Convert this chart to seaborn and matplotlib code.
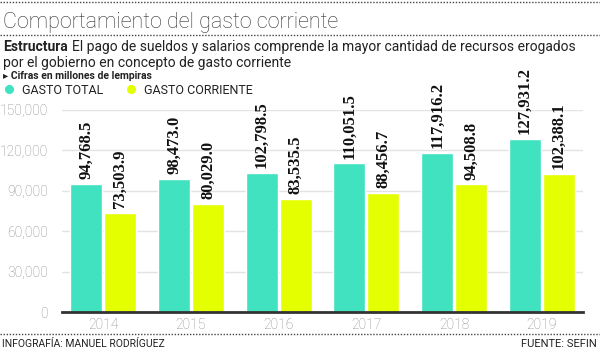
import numpy as np
import pandas as pd
import seaborn as sns
import matplotlib.pyplot as plt
from matplotlib.lines import Line2D

years = ['2014', '2015', '2016', '2017', '2018', '2019']
gasto_total = [94768.5, 98473.0, 102798.5, 110051.5, 117916.2, 127931.2]
gasto_corriente = [73503.9, 80029.0, 83535.5, 88456.7, 94508.8, 102388.1]
series = ['GASTO TOTAL', 'GASTO CORRIENTE']
colors = ['#40E2C0', '#E4FF00']
y_ticks = [0, 30000, 60000, 90000, 120000, 150000]

df = pd.DataFrame({
    'year': years * 2,
    'value': gasto_total + gasto_corriente,
    'serie': [series[0]] * len(years) + [series[1]] * len(years),
})

sns.set_theme(style='white')
plt.rcParams['font.family'] = ['Roboto', 'DejaVu Sans']

W, H = 600, 350
fig = plt.figure(figsize=(6, 3.5), dpi=100)


def px(x, y):
    return x / W, 1 - y / H


# plot area in pixels
left, right, top, bottom = 62, 583, 109.5, 312
ax = fig.add_axes([left / W, 1 - bottom / H, (right - left) / W, (bottom - top) / H])

sns.barplot(data=df, x='year', y='value', hue='serie', palette=colors,
            width=0.775, gap=0.06, saturation=1, ax=ax, legend=False)

ax.set_ylim(0, 150000)
ax.set_xlim(-0.47, 5.47)
ax.set_yticks(y_ticks)
ax.set_yticklabels([f'{t:,}' for t in y_ticks])
ax.set_xlabel('')
ax.set_ylabel('')
ax.yaxis.grid(True, color='#e3e3e3', linewidth=1)
ax.set_axisbelow(True)
for s in ['left', 'right', 'top']:
    ax.spines[s].set_visible(False)
ax.spines['bottom'].set_color('#333333')
ax.spines['bottom'].set_linewidth(2)
ax.tick_params(axis='both', length=0, colors='#8a8a8a', labelsize=10)
ax.tick_params(axis='y', pad=10)
ax.tick_params(axis='x', pad=4)
for lab in ax.get_yticklabels() + ax.get_xticklabels():
    lab.set_fontweight('light')

# value labels above bars
for cont in ax.containers:
    for bar in cont:
        v = bar.get_height()
        ax.annotate(f'{v:,.1f}', (bar.get_x() + bar.get_width() / 2, v),
                    xytext=(0, 3.5), textcoords='offset points',
                    rotation=90, ha='center', va='bottom',
                    family='Liberation Serif', fontweight='bold',
                    fontsize=12, color='#111111', annotation_clip=False)

# header
fig.text(*px(3, 28), 'Comportamiento del gasto corriente', fontsize=15.5,
         fontweight='light', color='#333333', va='baseline')

for yy in [2, 35, 334]:
    fig.add_artist(Line2D([0, 1], [1 - yy / H] * 2, color='#444444',
                          linewidth=1, linestyle=(0, (1, 1.2))))

renderer = fig.canvas.get_renderer()
t = fig.text(*px(3, 51), 'Estructura', fontsize=10, fontweight='bold',
             color='#222222', va='baseline')
bb = t.get_window_extent(renderer)
fig.text(bb.x1 / W + 4 / W, 1 - 51 / H,
         'El pago de sueldos y salarios comprende la mayor cantidad de recursos erogados',
         fontsize=10, color='#222222', va='baseline')
fig.text(*px(3, 67), 'por el gobierno en concepto de gasto corriente',
         fontsize=10, color='#222222', va='baseline')
fig.text(*px(3, 79), '\u25b8 Cifras en millones de lempiras', fontsize=7.5,
         fontweight='bold', color='#222222', va='baseline')

# legend
for xc, name, c in [(9, series[0], colors[0]), (131, series[1], colors[1])]:
    fig.add_artist(Line2D([xc / W], [1 - 89 / H], marker='o', markersize=5.5,
                          color=c, linestyle=''))
    fig.text(*px(xc + 13, 94), name, fontsize=9, color='#222222', va='baseline')

# footer
fig.text(*px(2, 347), 'INFOGRAFÍA: MANUEL RODRÍGUEZ', fontsize=7.5,
         color='#222222', va='baseline')
fig.text(*px(597, 347), 'FUENTE: SEFIN', fontsize=8, color='#222222',
         va='baseline', ha='right')

fig.savefig('out.png', dpi=100)
